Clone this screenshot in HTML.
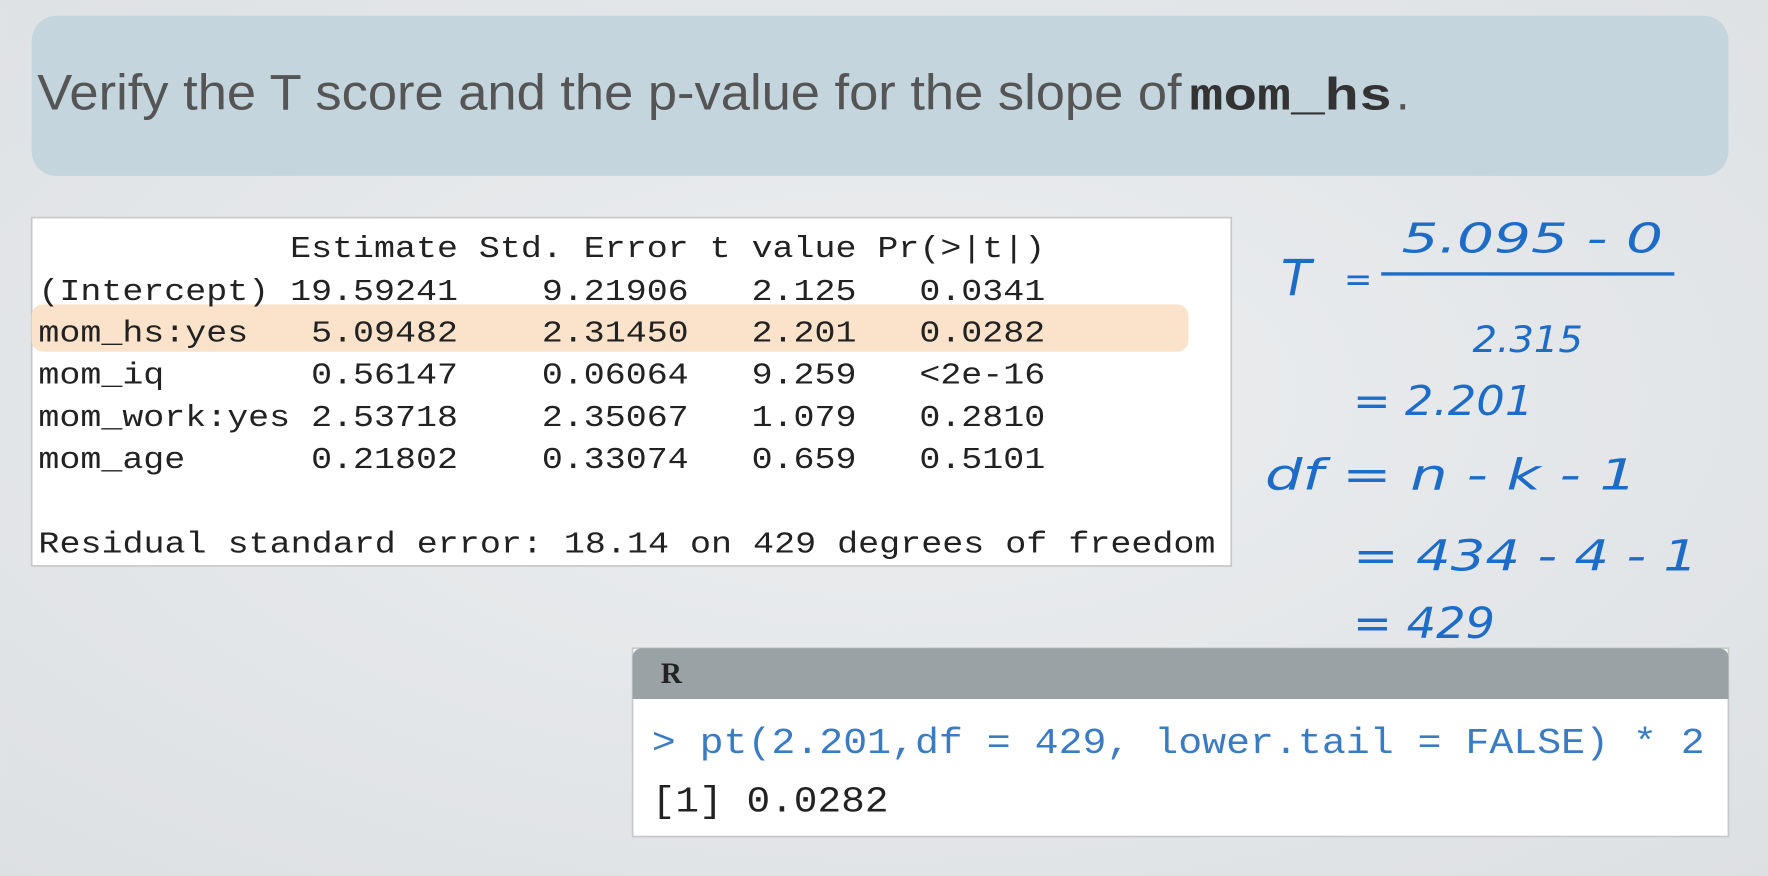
<!DOCTYPE html>
<html><head><meta charset="utf-8"><style>
html,body{margin:0;padding:0;width:1768px;height:876px;overflow:hidden;background:#e4e6e8}
svg{display:block}
.mono{font-family:"Liberation Mono",monospace;white-space:pre}
.hand{font-family:"DejaVu Sans","Liberation Sans",sans-serif;font-weight:200;font-style:italic;fill:#1d6cc8}
</style></head><body>
<svg width="1768" height="876" viewBox="0 0 1568 777" xmlns="http://www.w3.org/2000/svg">
<defs><radialGradient id="bg" cx="0.5" cy="0.45" r="0.8"><stop offset="0" stop-color="#eceef0"/><stop offset="1" stop-color="#dcdfe2"/></radialGradient></defs>
<rect width="1568" height="777" fill="url(#bg)"/>
<g>
<rect x="28" y="14" width="1505" height="142" rx="22" fill="#c4d5de"/>
<text x="33" y="97" font-family="Liberation Sans,sans-serif" font-size="44" fill="#555" textLength="1015" lengthAdjust="spacingAndGlyphs">Verify the T score and the p-value for the slope of</text>
<text x="1055" y="97" class="mono" font-weight="bold" font-size="40" fill="#333" textLength="180" lengthAdjust="spacingAndGlyphs">mom_hs</text>
<text x="1238" y="97" font-family="Liberation Sans,sans-serif" font-size="44" fill="#555">.</text>
</g>
<g>
<rect x="28" y="193" width="1064" height="309" fill="#fff" stroke="#c8c8c8" stroke-width="1.5"/>
<rect x="28" y="270" width="1026" height="42" rx="10" fill="#fbe3cb"/>
<g class="mono" font-size="27" fill="#222">
<text x="34" y="228" style="white-space:pre" textLength="893" lengthAdjust="spacingAndGlyphs">            Estimate Std. Error t value Pr(&gt;|t|)</text>
<text x="34" y="266" style="white-space:pre" textLength="893" lengthAdjust="spacingAndGlyphs">(Intercept) 19.59241    9.21906   2.125   0.0341</text>
<text x="34" y="303" style="white-space:pre" textLength="893" lengthAdjust="spacingAndGlyphs">mom_hs:yes   5.09482    2.31450   2.201   0.0282</text>
<text x="34" y="340" style="white-space:pre" textLength="893" lengthAdjust="spacingAndGlyphs">mom_iq       0.56147    0.06064   9.259   &lt;2e-16</text>
<text x="34" y="378" style="white-space:pre" textLength="893" lengthAdjust="spacingAndGlyphs">mom_work:yes 2.53718    2.35067   1.079   0.2810</text>
<text x="34" y="415" style="white-space:pre" textLength="893" lengthAdjust="spacingAndGlyphs">mom_age      0.21802    0.33074   0.659   0.5101</text>
<text x="34" y="490" style="white-space:pre" textLength="1044" lengthAdjust="spacingAndGlyphs">Residual standard error: 18.14 on 429 degrees of freedom</text>
</g>
</g>
<g>
<text class="hand" x="1243" y="224" font-size="36" textLength="232" lengthAdjust="spacingAndGlyphs">5.095 - 0</text>
<line x1="1225" y1="243" x2="1485" y2="243" stroke="#1d6cc8" stroke-width="3"/>
<text class="hand" x="1136" y="262" font-size="44">T</text>
<text class="hand" x="1192" y="258" font-size="30">=</text>
<text class="hand" x="1306" y="312" font-size="32" textLength="98" lengthAdjust="spacingAndGlyphs">2.315</text>
<text class="hand" x="1200" y="368" font-size="36" textLength="160" lengthAdjust="spacingAndGlyphs">= 2.201</text>
<text class="hand" x="1122" y="434" font-size="38" textLength="330" lengthAdjust="spacingAndGlyphs">df = n - k - 1</text>
<text class="hand" x="1200" y="506" font-size="38" textLength="306" lengthAdjust="spacingAndGlyphs">= 434 - 4 - 1</text>
<text class="hand" x="1200" y="566" font-size="38" textLength="126" lengthAdjust="spacingAndGlyphs">= 429</text>
</g>
<g>
<rect x="561" y="575" width="972" height="167" fill="#fff" stroke="#c8c8c8" stroke-width="1.5"/>
<path d="M561 620 V583 a8 8 0 0 1 8 -8 H1525 a8 8 0 0 1 8 8 V620 Z" fill="#99a2a4"/>
<text x="586" y="606" font-family="Liberation Serif,serif" font-weight="bold" font-size="26" fill="#222">R</text>
<text x="578" y="668" class="mono" font-size="32" fill="#3a7cc4" textLength="934" lengthAdjust="spacingAndGlyphs">&gt; pt(2.201,df = 429, lower.tail = FALSE) * 2</text>
<text x="578" y="720" class="mono" font-size="32" fill="#222" textLength="210" lengthAdjust="spacingAndGlyphs">[1] 0.0282</text>
</g>
</svg>
</body></html>
